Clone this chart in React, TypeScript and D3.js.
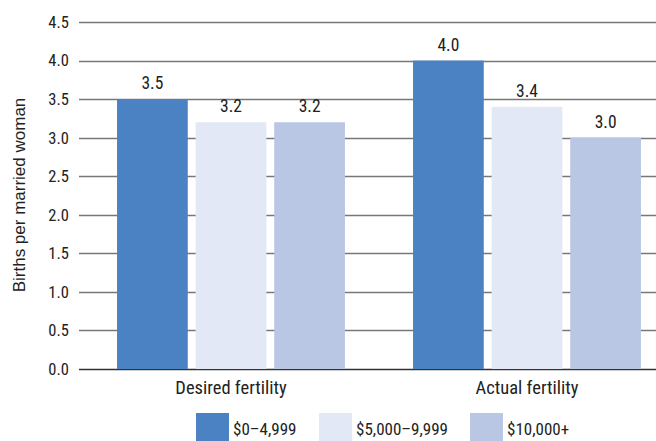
import React from "react";
import * as d3 from "d3";

const categories = ["Desired fertility", "Actual fertility"];
const seriesNames = ["$0–4,999", "$5,000–9,999", "$10,000+"];
const seriesValues = [
  [3.5, 4.0],
  [3.2, 3.4],
  [3.2, 3.0],
];
const yTicks = [0, 0.5, 1, 1.5, 2, 2.5, 3, 3.5, 4, 4.5];
const colors = ["#4a82c3", "#e2e8f5", "#b9c7e5"];

const W = 656;
const H = 441;
const condensed = "'Roboto Condensed', 'Liberation Sans Narrow', 'DejaVu Sans Condensed', 'Arial Narrow', Roboto, sans-serif";

export default function App() {
  const y = d3.scaleLinear().domain([0, 4.5]).range([369, 22]);
  const x0 = d3.scaleBand<string>().domain(categories).range([83, 675]).paddingInner(0.23).paddingOuter(0.115);
  const x1 = d3.scaleBand<string>().domain(seriesNames).range([0, x0.bandwidth()]).paddingInner(0.1);
  const legendX = [196, 319, 470];

  return (
    <svg width={W} height={H} style={{ position: "absolute", left: 0, top: 0 }} fontFamily={condensed}>
      <rect width={W} height={H} fill="#fff" />
      {yTicks.map((t) => (
        <g key={t}>
          <line x1={79} x2={656} y1={Math.round(y(t)) + 0.5} y2={Math.round(y(t)) + 0.5} stroke={t === 0 ? "#333" : "#777"} strokeWidth={1.3} />
          <text x={69} y={y(t)} dy="0.36em" textAnchor="end" fontSize={16.5} fill="#222" style={{ fontStretch: "condensed" }}>
            {t.toFixed(1)}
          </text>
        </g>
      ))}
      {categories.map((c, ci) => (
        <g key={c}>
          {seriesNames.map((s, si) => {
            const v = seriesValues[si][ci];
            const bx = (x0(c) as number) + (x1(s) as number);
            return (
              <g key={s}>
                <rect x={bx} y={y(v)} width={x1.bandwidth()} height={y(0) - y(v)} fill={colors[si]} />
                <text x={bx + x1.bandwidth() / 2} y={y(v) - 10} textAnchor="middle" fontSize={17.5} fill="#222" style={{ fontStretch: "condensed" }}>
                  {v.toFixed(1)}
                </text>
              </g>
            );
          })}
          <text x={(x0(c) as number) + x0.bandwidth() / 2} y={394} textAnchor="middle" fontSize={18.5} fill="#222" style={{ fontStretch: "condensed" }}>
            {c}
          </text>
        </g>
      ))}
      <text transform={`translate(25,195) rotate(-90)`} textAnchor="middle" fontSize={17} fill="#222" fontFamily="'Liberation Sans', Arial, sans-serif">
        Births per married woman
      </text>
      {seriesNames.map((s, si) => (
        <g key={s}>
          <rect x={legendX[si]} y={413} width={33} height={30} fill={colors[si]} />
          <text x={legendX[si] + 37} y={435} fontSize={17} fill="#222" style={{ fontStretch: "condensed" }}>
            {s}
          </text>
        </g>
      ))}
    </svg>
  );
}
